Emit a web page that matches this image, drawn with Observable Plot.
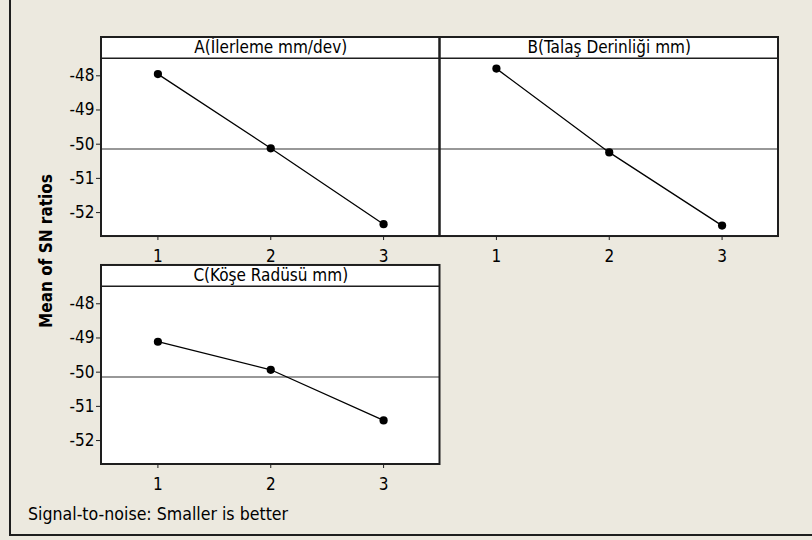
<!DOCTYPE html>
<html>
<head>
<meta charset="utf-8">
<script src="https://cdn.jsdelivr.net/npm/d3@7"></script>
<script src="https://cdn.jsdelivr.net/npm/@observablehq/plot@0.6"></script>
<style>
  html, body { margin: 0; padding: 0; background: #ece9df; }
  #wrap { position: relative; width: 812px; height: 540px; background: #ece9df; overflow: hidden;
          font-family: "DejaVu Sans Condensed", "DejaVu Sans", sans-serif; }
  #border { position: absolute; left: 9px; top: -4px; right: -4px; height: 538px;
            border-left: 2px solid #1e1e1e; border-bottom: 2px solid #1e1e1e; }
  #chart { position: absolute; left: 0; top: 0; }
  #ylab { position: absolute; left: 45.5px; top: 251px; transform: translate(-50%, -50%) rotate(-90deg);
          white-space: nowrap; font-weight: bold; font-size: 17px; color: #000; }
  #note { position: absolute; left: 28px; top: 504px; font-size: 17.6px; color: #000; white-space: nowrap; }
</style>
</head>
<body>
<div id="wrap">
  <div id="border"></div>
  <div id="chart"></div>
  <div id="ylab">Mean of SN ratios</div>
  <div id="note">Signal-to-noise: Smaller is better</div>
</div>
<script>
// ---- data ----
const factors = ["A(İlerleme mm/dev)", "B(Talaş Derinliği mm)", "C(Köşe Radüsü mm)"];
const levels = [1, 2, 3];
const snA = [-47.95, -50.12, -52.34];
const snB = [-47.79, -50.24, -52.38];
const snC = [-49.11, -49.93, -51.41];
const panelCol = [0, 1, 0];
const panelRow = [0, 0, 1];
const yTicks = [-48, -49, -50, -51, -52];

const series = [snA, snB, snC];
const data = factors.flatMap((f, i) => levels.map((l, j) => ({
  factor: f, level: l, sn: series[i][j], col: panelCol[i], row: panelRow[i]
})));
const panels = factors.map((f, i) => ({factor: f, col: panelCol[i], row: panelRow[i]}));
const grandMean = d3.mean(data, d => d.sn);

// scale extents (data region + header strip on top)
const yLow = -52.70, yDataTop = -47.49, yTop = -46.88;
const FONT = "DejaVu Sans Condensed, DejaVu Sans, sans-serif";

const chart = Plot.plot({
  width: 812,
  height: 540,
  marginLeft: 101,
  marginRight: 34,
  marginTop: 37,
  marginBottom: 76,
  style: {background: "transparent", fontFamily: FONT, fontSize: "17px", color: "#000"},
  fx: {axis: null, padding: 0, round: false},
  fy: {axis: null, paddingInner: 0.127, paddingOuter: 0, round: false},
  x: {domain: [0.5, 3.5]},
  y: {domain: [yLow, yTop]},
  marks: [
    Plot.rect(panels, {fx: "col", fy: "row", x1: () => 0.5, x2: () => 3.5, y1: () => yLow, y2: () => yTop, fill: "white"}),
    Plot.ruleY(panels, {fx: "col", fy: "row", y: () => grandMean, stroke: "#333", strokeWidth: 1.2}),
    Plot.ruleY(panels, {fx: "col", fy: "row", y: () => yDataTop, stroke: "#1e1e1e", strokeWidth: 1.5}),
    Plot.text(panels, {fx: "col", fy: "row", text: "factor", frameAnchor: "top", lineAnchor: "middle", dy: 10.5, fill: "#000", fontSize: 17}),
    Plot.line(data, {fx: "col", fy: "row", x: "level", y: "sn", stroke: "#000", strokeWidth: 1.3}),
    Plot.dot(data, {fx: "col", fy: "row", x: "level", y: "sn", fill: "#000", r: 4.1}),
    Plot.rect(panels, {fx: "col", fy: "row", x1: () => 0.5, x2: () => 3.5, y1: () => yLow, y2: () => yTop, fill: "none", stroke: "#1e1e1e", strokeWidth: 2}),
    Plot.axisX({ticks: levels, tickFormat: "d", tickSize: 4, tickPadding: 9, fontSize: 17, label: null, facetAnchor: null, stroke: "#1e1e1e", fill: "#000"}),
    Plot.axisY({ticks: yTicks, tickFormat: d => String(d).replace("\u2212", "-"), tickSize: 5, tickPadding: 2, fontSize: 17, label: null, stroke: "#1e1e1e", fill: "#000"})
  ]
});
document.getElementById("chart").appendChild(chart);
</script>
</body>
</html>
